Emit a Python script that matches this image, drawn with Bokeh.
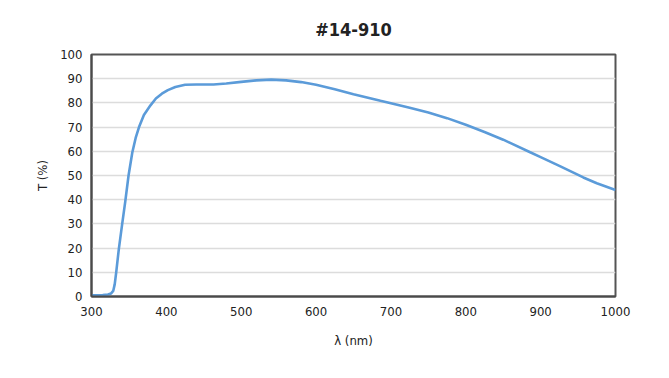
from bokeh.plotting import figure
from bokeh.models import FixedTicker, Range1d
from bokeh.embed import file_html
from bokeh.resources import INLINE

wavelength = [300, 315, 322, 326, 329, 331, 333, 336.5, 341, 345, 349.5, 354.5, 359, 363.5, 370,
              378.8, 386, 394, 402, 412, 425, 440, 463, 480, 500, 520, 540, 560, 580, 600,
              625, 650, 686, 700, 725, 750, 775, 800, 825, 850, 886, 900, 925, 957, 975, 1000]
transmission = [0.5, 0.6, 0.8, 1.2, 2.3, 5.0, 10.0, 19.6, 30.0, 39.0, 50.0, 59.5, 65.5, 70.0, 75.0,
                79.0, 81.8, 83.8, 85.3, 86.6, 87.5, 87.6, 87.6, 88.0, 88.7, 89.3, 89.6, 89.3, 88.6, 87.5,
                85.6, 83.6, 80.9, 79.9, 78.0, 76.0, 73.7, 71.0, 68.0, 64.8, 59.6, 57.6, 54.0, 49.2, 46.8, 44.0]
x_ticks = [300, 400, 500, 600, 700, 800, 900, 1000]
y_ticks = [0, 10, 20, 30, 40, 50, 60, 70, 80, 90, 100]

FONT = "DejaVu Sans Condensed, Roboto, sans-serif"

p = figure(width=669, height=378, output_backend="svg", toolbar_location=None,
           x_range=Range1d(300, 1000), y_range=Range1d(0, 100),
           title="#14-910", min_border_left=91, min_border_right=54,
           min_border_top=54, min_border_bottom=82)

p.title.align = "center"
p.title.text_font = FONT
p.title.text_font_size = "18px"
p.title.text_font_style = "bold"
p.title.text_color = "#222222"
p.title.offset = 0
p.title.standoff = 29

p.line(wavelength, transmission, line_color="#5b9bd9", line_width=2.6)

p.xaxis.ticker = FixedTicker(ticks=x_ticks)
p.yaxis.ticker = FixedTicker(ticks=y_ticks)
for ax in (p.xaxis[0], p.yaxis[0]):
    ax.major_tick_line_color = None
    ax.minor_tick_line_color = None
    ax.major_tick_out = 0
    ax.major_tick_in = 0
    ax.minor_tick_out = 0
    ax.minor_tick_in = 0
    ax.axis_line_color = "#4a4a4a"
    ax.axis_line_width = 2
    ax.major_label_text_font = FONT
    ax.major_label_text_font_size = "13px"
    ax.major_label_text_color = "#222222"
    ax.axis_label_text_font = FONT
    ax.axis_label_text_font_size = "13px"
    ax.axis_label_text_font_style = "normal"
    ax.axis_label_text_color = "#222222"

p.xaxis.axis_label = "λ (nm)"
p.yaxis.axis_label = "T (%)"
p.xaxis.major_label_standoff = 10
p.yaxis.major_label_standoff = 9
p.xaxis.axis_label_standoff = 14
p.yaxis.axis_label_standoff = 7

p.xgrid.grid_line_color = None
p.ygrid.grid_line_color = "#dcdcdc"
p.ygrid.grid_line_width = 1.5
p.outline_line_color = "#555555"
p.outline_line_width = 2

open("out.html", "w").write(file_html(p, INLINE))
